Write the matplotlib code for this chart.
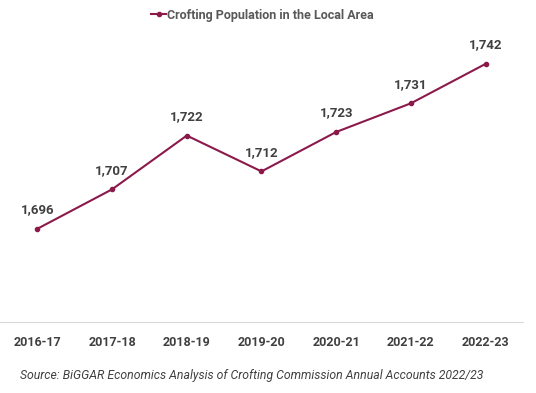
import matplotlib.pyplot as plt
from matplotlib.lines import Line2D

# data
years = ['2016-17', '2017-18', '2018-19', '2019-20', '2020-21', '2021-22', '2022-23']
population = [1696, 1707, 1722, 1712, 1723, 1731, 1742]

line_col = '#8B1A4B'
text_col = '#404040'

plt.rcParams['font.family'] = ['Roboto', 'DejaVu Sans']

fig = plt.figure(figsize=(5.36, 3.93), dpi=100)
ax = fig.add_axes([0.0, 1 - 322 / 393, 523 / 536, (322 - 28) / 393])

xs = list(range(len(years)))
ax.plot(xs, population, color=line_col, linewidth=1.5, marker='o', markersize=3)

# value labels above each point
for x, v in zip(xs, population):
    ax.annotate('{:,}'.format(v), (x, v), xytext=(0, 9), textcoords='offset points',
                ha='center', va='bottom', fontsize=9.5, fontweight='bold', color=text_col)

ax.set_xlim(-0.5, len(years) - 0.5)
ax.set_ylim(1670, 1752)
ax.set_xticks(xs)
ax.set_xticklabels(years, fontsize=9, fontweight='bold', color=text_col)
ax.tick_params(axis='x', length=0, pad=10)
ax.set_yticks([])

for side in ['top', 'right', 'left']:
    ax.spines[side].set_visible(False)
ax.spines['bottom'].set_color('#d9d9d9')

handle = Line2D([], [], color=line_col, linewidth=1.5, marker='o', markersize=3)
fig.legend([handle], ['Crofting Population in the Local Area'], loc='center',
           bbox_to_anchor=(0.49, 1 - 15 / 393), frameon=False, handlelength=1.2,
           handletextpad=0.1, prop={'weight': 'bold', 'size': 9}, labelcolor='#595959')

fig.text(20 / 536, 1 - 375 / 393,
         'Source: BiGGAR Economics Analysis of Crofting Commission Annual Accounts 2022/23',
         fontsize=8.8, style='italic', color=text_col, va='center')

fig.savefig('out.png', dpi=100)
